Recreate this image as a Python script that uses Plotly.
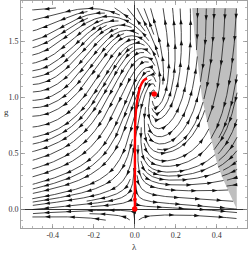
import math
import numpy as np
import plotly.graph_objects as go

# ---------------- data ----------------
x_tick_vals = [-0.4, -0.2, 0.0, 0.2, 0.4]
x_tick_text = ["-0.4", "-0.2", "0.0", "0.2", "0.4"]
y_tick_vals = [0.0, 0.5, 1.0, 1.5]
y_tick_text = ["0.0", "0.5", "1.0", "1.5"]

lambda_domain = [-0.5, 0.5]
g_domain = [-0.1, 1.8]

# boundary of the shaded (excluded) region
boundary_g = [0.0, 0.125, 0.26, 0.394, 0.528, 0.737, 1.0, 1.3, 1.55, 1.8]
boundary_lambda = [0.498, 0.466, 0.433, 0.404, 0.386, 0.359, 0.328, 0.31, 0.292, 0.281]
region_lambda_max = 0.498

# red trajectory
red_lambda = [0.060, 0.043, 0.027, 0.016, 0.008, 0.004, 0.002, 0.001, 0.001]
red_g = [1.170, 1.149, 1.095, 1.006, 0.917, 0.827, 0.738, 0.40, 0.0]
red_arrow_lambda = [0.001]
red_arrow_g = [0.035]

# fixed points (saddle, focus)
fixed_lambda = [0.0, 0.095]
fixed_g = [0.0, 1.03]

# ---------------- flow model (qualitative) ----------------
FX, FY = fixed_lambda[1], fixed_g[1]
A1_0, A1_2 = 2.5, 0.173
N_A0 = 2.52
ALPHA = FX * (A1_0 + A1_2 * FY ** 2) / FY ** N_A0
BETA1 = 9.47
BETA2 = 25.5
MU = 0.336
TANH1 = math.tanh(1.0)


def b1(y):
    return BETA1 * y * math.sqrt(abs(y))


def b2(y):
    return -1.0 + BETA2 * math.tanh((y / FY) ** 2) / TANH1


NU = (-(FX * b1(FY) + FX ** 2 * b2(FY)) + FY + MU * FY ** 2) / FY ** 6


def in_gray(x, y):
    return boundary_g[0] <= y <= boundary_g[-1] and x > float(np.interp(y, boundary_g, boundary_lambda))


def field(x, y):
    a1 = A1_0 + A1_2 * y * y
    a0 = -ALPHA * max(y, 0.0) ** N_A0
    P = a1 * x + a0
    b0 = -y - MU * y * y + NU * y ** 6
    Q = b0 + b1(y) * x + b2(y) * x * x
    if in_gray(x, y):
        return -P, -Q
    return P, Q


# pixel metric of the plot
SX, SY = 204.9, 111.7
X0, X1 = lambda_domain
Y0, Y1 = g_domain
DSEP, DTEST, H = 6.5, 3.0, 0.7


def direction(x, y):
    P, Q = field(x, y)
    dX, dY = P * SX, Q * SY
    n = math.hypot(dX, dY)
    if n < 1e-12:
        return None
    return dX / n, dY / n


def topx(x, y):
    return (x - X0) * SX, (y - Y0) * SY


cells = {}


def near(X, Y, d):
    ci, cj = int(X // DSEP), int(Y // DSEP)
    d2 = d * d
    for i in (ci - 1, ci, ci + 1):
        for j in (cj - 1, cj, cj + 1):
            for (a, b) in cells.get((i, j), ()):
                if (a - X) ** 2 + (b - Y) ** 2 < d2:
                    return True
    return False


fixed_px = [topx(a, b) for a, b in zip(fixed_lambda, fixed_g)]


def trace(x, y, sgn):
    pts = []
    prev = None
    own = {}
    for step in range(4000):
        d1 = direction(x, y)
        if d1 is None:
            break
        d1 = (sgn * d1[0], sgn * d1[1])
        if prev is not None and d1[0] * prev[0] + d1[1] * prev[1] < 0.3:
            break
        xm = x + 0.5 * H * d1[0] / SX
        ym = y + 0.5 * H * d1[1] / SY
        d2 = direction(xm, ym)
        if d2 is None:
            break
        d2 = (sgn * d2[0], sgn * d2[1])
        if d1[0] * d2[0] + d1[1] * d2[1] < 0.3:
            break
        xn = x + H * d2[0] / SX
        yn = y + H * d2[1] / SY
        if not (X0 <= xn <= X1 and Y0 <= yn <= Y1):
            break
        Xn, Yn = topx(xn, yn)
        if near(Xn, Yn, DTEST):
            break
        stop = False
        for (fx, fy) in fixed_px:
            if (Xn - fx) ** 2 + (Yn - fy) ** 2 < 2.5 ** 2:
                stop = True
        if stop:
            break
        ci, cj = int(Xn // DSEP), int(Yn // DSEP)
        idx = len(pts)
        for i in (ci - 1, ci, ci + 1):
            for j in (cj - 1, cj, cj + 1):
                for (a, b, k) in own.get((i, j), ()):
                    if idx - k > 40 and (a - Xn) ** 2 + (b - Yn) ** 2 < DTEST ** 2:
                        stop = True
        if stop:
            break
        own.setdefault((ci, cj), []).append((Xn, Yn, idx))
        pts.append((xn, yn))
        prev = d2
        x, y = xn, yn
    return pts


lines = []
queue = []


def make_line(xs, ys):
    Xs, Ys = topx(xs, ys)
    if near(Xs, Ys, DSEP * 0.9):
        return False
    back = trace(xs, ys, -1)
    fwd = trace(xs, ys, 1)
    pts = back[::-1] + [(xs, ys)] + fwd
    if len(pts) * H < 9:
        return False
    for (a, b) in pts:
        X, Y = topx(a, b)
        cells.setdefault((int(X // DSEP), int(Y // DSEP)), []).append((X, Y))
    lines.append(pts)
    for k in range(2, len(pts) - 2, 6):
        ax, ay = topx(*pts[k - 1])
        bx, by = topx(*pts[k + 1])
        tx, ty = bx - ax, by - ay
        n = math.hypot(tx, ty)
        if n == 0:
            continue
        nx, ny = -ty / n, tx / n
        cx, cy = topx(*pts[k])
        for s in (1, -1):
            sx = cx + s * nx * DSEP
            sy = cy + s * ny * DSEP
            queue.append((sx / SX + X0, sy / SY + Y0))
    return True


def process_queue():
    while queue:
        xs, ys = queue.pop(0)
        if X0 <= xs <= X1 and Y0 <= ys <= Y1:
            make_line(xs, ys)


make_line(-0.3, 1.0)
process_queue()
for ys in np.arange(Y0 + 0.01, Y1, 3.0 / SY):
    for xs in np.arange(X0 + 0.005, X1, 3.0 / SX):
        if make_line(float(xs), float(ys)):
            process_queue()

# assemble traces
sl_x, sl_y = [], []
ar_x, ar_y, ar_ang = [], [], []
SPACING = 22.0
for pts in lines:
    xs = [p[0] for p in pts]
    ys = [p[1] for p in pts]
    sl_x += xs + [None]
    sl_y += ys + [None]
    L = (len(pts) - 1) * H
    n = max(1, int(round(L / SPACING)))
    for i in range(n):
        s = (i + 0.5) * L / n
        k = min(max(int(s / H), 1), len(pts) - 2)
        ax, ay = topx(*pts[k - 1])
        bx, by = topx(*pts[k + 1])
        ar_x.append(pts[k][0])
        ar_y.append(pts[k][1])
        ar_ang.append(math.degrees(math.atan2(bx - ax, by - ay)))

gray_x = boundary_lambda + [region_lambda_max, region_lambda_max]
gray_y = boundary_g + [boundary_g[-1], boundary_g[0]]

fig = go.Figure()
fig.add_trace(go.Scatter(x=gray_x, y=gray_y, fill="toself", fillcolor="#bfbfbf",
                         line=dict(width=0), mode="lines", hoverinfo="skip"))
fig.add_trace(go.Scatter(x=sl_x, y=sl_y, mode="lines",
                         line=dict(color="#1a1a1a", width=0.8), hoverinfo="skip"))
fig.add_trace(go.Scatter(x=ar_x, y=ar_y, mode="markers",
                         marker=dict(symbol="arrow", size=5.5, angle=ar_ang, color="#111111",
                                     line=dict(width=0)), hoverinfo="skip"))
fig.add_trace(go.Scatter(x=red_lambda, y=red_g, mode="lines",
                         line=dict(color="red", width=2.4, shape="spline"), hoverinfo="skip"))
fig.add_trace(go.Scatter(x=red_arrow_lambda, y=red_arrow_g, mode="markers",
                         marker=dict(symbol="arrow", size=7, angle=180, color="red",
                                     line=dict(width=0)), hoverinfo="skip"))
fig.add_trace(go.Scatter(x=fixed_lambda, y=fixed_g, mode="markers",
                         marker=dict(size=5.5, color="red", line=dict(width=0)), hoverinfo="skip"))

frame = "#8a8a8a"
tickfont = dict(family="Liberation Serif", size=8, color="#333333")
common = dict(showgrid=False, zeroline=True, zerolinecolor="black", zerolinewidth=0.8,
              showline=True, linecolor=frame, linewidth=0.8, mirror="allticks",
              ticks="inside", ticklen=4, tickwidth=0.7, tickcolor=frame, tickfont=tickfont,
              automargin=False)
fig.update_xaxes(range=[-0.555, 0.548], tickvals=x_tick_vals, ticktext=x_tick_text,
                 minor=dict(ticks="inside", ticklen=2, tickwidth=0.6, tickcolor=frame, dtick=0.05,
                            showgrid=False), **common)
fig.update_yaxes(range=[-0.170, 1.862], tickvals=y_tick_vals, ticktext=y_tick_text,
                 minor=dict(ticks="inside", ticklen=2, tickwidth=0.6, tickcolor=frame, dtick=0.1,
                            showgrid=False), **common)
fig.update_layout(width=249, height=253, margin=dict(l=21, r=2, t=1, b=25, autoexpand=False),
                  paper_bgcolor="white", plot_bgcolor="white", showlegend=False,
                  hovermode=False,
                  annotations=[
                      dict(text="λ", xref="paper", yref="paper", x=0.502, y=-0.084,
                           xanchor="center", yanchor="middle", showarrow=False,
                           font=dict(family="Liberation Serif", size=9, color="#333333")),
                      dict(text="g", xref="paper", yref="paper", x=-0.062, y=0.511,
                           xanchor="center", yanchor="middle", showarrow=False,
                           font=dict(family="Liberation Serif", size=9, color="#333333")),
                  ])
fig.write_html("out.html", config={"displayModeBar": False, "staticPlot": True},
               post_script="document.body.style.margin='0';document.body.style.overflow='hidden';")
